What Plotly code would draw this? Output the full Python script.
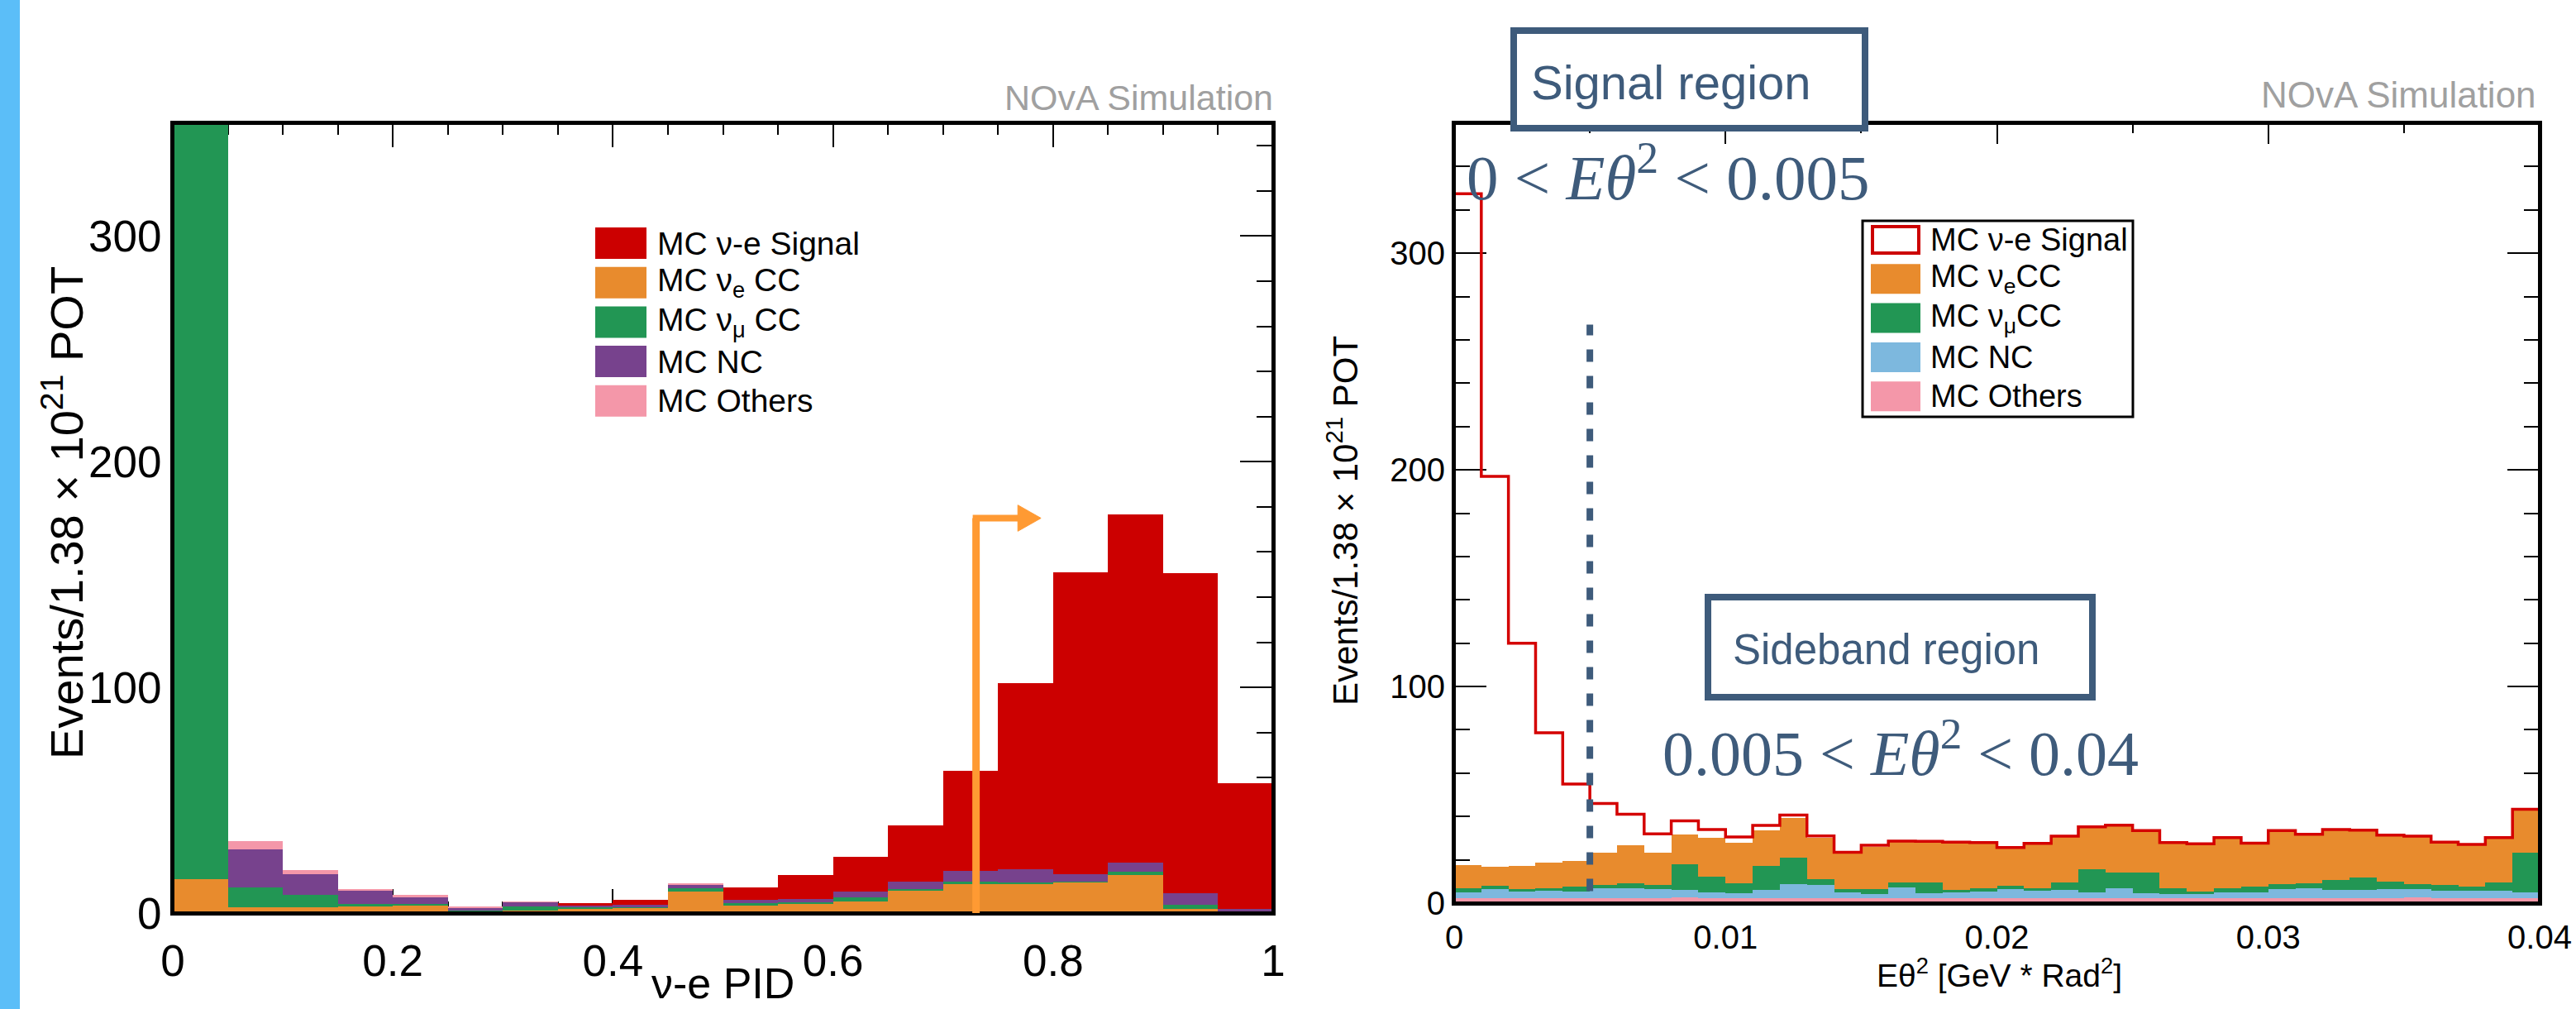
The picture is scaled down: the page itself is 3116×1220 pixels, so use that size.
import numpy as np
import plotly.graph_objects as go

W, H = 3116, 1220

# ---------------- Left panel: nu-e PID, 20 bins on [0, 1] ----------------
PID_EDGES = np.linspace(0.0, 1.0, 21)
pid_nue_cc  = [15.0, 2.4, 2.4, 2.9, 3.6, 0.6, 1.2, 1.9, 2.4, 9.6, 3.6, 4.3, 5.3, 10.0, 12.7, 12.9, 13.7, 16.8, 1.7, 0.5]
pid_numu_cc = [385.0, 9.1, 5.8, 1.2, 0.5, 0.4, 1.7, 0.5, 0.5, 1.4, 0.7, 0.5, 1.7, 0.5, 1.4, 0.8, 0.4, 1.5, 1.9, 0.2]
pid_nc      = [0.0, 16.8, 9.1, 5.7, 3.1, 1.4, 1.9, 1.0, 0.7, 1.7, 1.5, 1.4, 2.6, 3.4, 4.6, 5.7, 3.2, 4.0, 5.1, 1.0]
pid_others  = [0.0, 3.6, 1.9, 1.0, 0.7, 0.2, 0.2, 0.0, 0.0, 0.3, 0.0, 0.0, 0.0, 0.0, 0.0, 0.0, 0.0, 0.0, 0.0, 0.0]
pid_signal  = [0.0, 0.0, 0.0, 0.0, 0.0, 0.0, 0.0, 0.9, 2.2, 0.0, 5.5, 10.6, 15.3, 25.0, 44.5, 82.6, 133.7, 154.5, 142.0, 55.8]
PID_CUT = 0.73
PID_TICKS = [0, 0.2, 0.4, 0.6, 0.8, 1.0]
PID_TICKTEXT = ["0", "0.2", "0.4", "0.6", "0.8", "1"]

# ---------------- Right panel: E theta^2, 40 bins on [0, 0.04] ----------------
ET_EDGES = np.linspace(0.0, 0.04, 41)
et_others  = [2.2, 2.2, 2.2, 2.2, 2.2, 2.2, 2.2, 2.2, 2.8, 2.2, 2.2, 2.2, 2.2, 2.2, 2.2, 2.2, 2.2, 2.2, 2.2, 2.2,
              2.2, 2.2, 2.2, 2.2, 2.2, 2.2, 2.2, 2.2, 2.2, 2.2, 2.2, 2.2, 2.2, 2.2, 2.2, 2.6, 2.2, 2.2, 2.2, 2.2]
et_nc      = [2.6, 4.4, 3.3, 3.5, 3.1, 4.8, 4.8, 4.2, 3.3, 2.6, 2.3, 3.8, 6.7, 6.3, 2.9, 1.9, 5.2, 2.3, 2.9, 3.3,
              4.2, 3.5, 3.8, 2.9, 4.8, 2.3, 1.9, 1.9, 2.9, 2.9, 4.2, 4.8, 3.8, 3.9, 4.4, 4.0, 3.5, 3.5, 3.5, 2.9]
et_numu_cc = [1.9, 1.4, 1.1, 1.0, 2.3, 1.5, 2.2, 1.9, 12.0, 7.3, 4.8, 11.2, 12.1, 2.7, 1.5, 2.3, 2.3, 5.2, 1.1, 1.2,
              1.5, 1.3, 3.5, 10.4, 7.2, 9.5, 2.9, 1.2, 1.6, 2.5, 2.3, 2.2, 4.8, 5.7, 3.2, 2.3, 2.6, 1.9, 4.0, 18.1]
et_nue_cc  = [10.7, 8.8, 10.7, 12.1, 11.7, 14.7, 17.5, 15.1, 13.7, 17.9, 18.4, 16.5, 18.2, 19.1, 16.3, 19.7, 18.6, 18.5, 21.7, 21.0,
              17.5, 20.3, 21.1, 19.4, 21.5, 19.2, 20.7, 21.8, 23.3, 19.8, 24.5, 22.3, 22.9, 21.6, 21.3, 21.7, 19.6, 19.2, 20.3, 19.8]
et_signal  = [310.1, 180.2, 102.7, 59.8, 35.7, 22.8, 14.3, 8.6, 6.2, 4.0, 2.8, 2.2, 1.5, 0.7, 0.6, 0.6, 0.3, 0.3, 0.3, 0.3,
              0.3, 0.3, 0.3, 0.3, 0.3, 0.3, 0.3, 0.3, 0.3, 0.3, 0.3, 0.3, 0.3, 0.3, 0.3, 0.3, 0.3, 0.3, 0.3, 0.3]
ET_SIGNAL_MAX = 0.005
ET_TICKS = [0, 0.01, 0.02, 0.03, 0.04]
ET_TICKTEXT = ["0", "0.01", "0.02", "0.03", "0.04"]

# ---------------- styling ----------------
RED = "#CC0000"
ORANGE = "#E88B2D"
GREEN = "#229654"
PURPLE = "#77428D"
PINK = "#F497A9"
NCBLUE = "#7DB8DE"
SLATE = "#3E5B7B"
ARROW = "#FF9A33"
GREY = "#A0A0A0"
SANS = "Liberation Sans, Arial, Helvetica, sans-serif"
SERIF = "Liberation Serif, Times New Roman, serif"


def PX(x):
    return x / W


def PY(y):
    return 1 - y / H


fig = go.Figure()

pid_c = 0.5 * (PID_EDGES[:-1] + PID_EDGES[1:])
pid_w = PID_EDGES[1] - PID_EDGES[0]
for vals, col, name in [(pid_nue_cc, ORANGE, "nue"), (pid_numu_cc, GREEN, "numu"),
                        (pid_nc, PURPLE, "nc"), (pid_others, PINK, "oth"), (pid_signal, RED, "sig")]:
    fig.add_trace(go.Bar(x=pid_c, y=vals, width=pid_w, marker=dict(color=col, line=dict(width=0)),
                         xaxis="x", yaxis="y", showlegend=False, name=name))

et_c = 0.5 * (ET_EDGES[:-1] + ET_EDGES[1:])
et_w = ET_EDGES[1] - ET_EDGES[0]
for vals, col, name in [(et_others, PINK, "oth"), (et_nc, NCBLUE, "nc"),
                        (et_numu_cc, GREEN, "numu"), (et_nue_cc, ORANGE, "nue")]:
    fig.add_trace(go.Bar(x=et_c, y=vals, width=et_w, marker=dict(color=col, line=dict(width=0)),
                         xaxis="x2", yaxis="y2", showlegend=False, name=name))

et_total = np.array(et_others) + np.array(et_nc) + np.array(et_numu_cc) + np.array(et_nue_cc) + np.array(et_signal)
line_x = [ET_EDGES[0]] + list(ET_EDGES[:-1]) + [ET_EDGES[-1]]
line_y = [0.0] + list(et_total) + [et_total[-1]]
fig.add_trace(go.Scatter(x=line_x, y=line_y, mode="lines", line=dict(color="#D40000", width=3.5, shape="hv"),
                         xaxis="x2", yaxis="y2", showlegend=False, name="sig"))

LX = [PX(209), PX(1540)]
LY = [PY(1104), PY(149)]
RX = [PX(1759), PX(3072)]
RY = [PY(1092), PY(149)]

common_axis = dict(showgrid=False, zeroline=False, ticks="inside", tickcolor="black", tickwidth=2,
                   showline=True, linecolor="black", linewidth=3, mirror="allticks", layer="below traces",
                   automargin=False)

fig.update_layout(
    width=W, height=H, margin=dict(l=0, r=0, t=0, b=0, pad=0, autoexpand=False),
    paper_bgcolor="white", plot_bgcolor="white",
    barmode="stack", bargap=0, showlegend=False,
    font=dict(family=SANS, color="black"),
    xaxis=dict(domain=LX, range=[0, 1], tickvals=PID_TICKS, ticktext=PID_TICKTEXT, ticklen=29,
               minor=dict(dtick=0.05, ticklen=14, ticks="inside", tickcolor="black", tickwidth=2),
               tickfont=dict(size=53, family=SANS), anchor="y", ticklabelstandoff=9, **common_axis),
    yaxis=dict(domain=LY, range=[0, 350], tickvals=[0, 100, 200, 300], ticklen=40,
               minor=dict(dtick=20, ticklen=20, ticks="inside", tickcolor="black", tickwidth=2),
               tickfont=dict(size=53, family=SANS), anchor="x", **common_axis),
    xaxis2=dict(domain=RX, range=[0, 0.04], tickvals=ET_TICKS, ticktext=ET_TICKTEXT, ticklen=25,
                minor=dict(dtick=0.005, ticklen=12, ticks="inside", tickcolor="black", tickwidth=2),
                tickfont=dict(size=40, family=SANS), anchor="y2", ticklabelstandoff=4, **common_axis),
    yaxis2=dict(domain=RY, range=[0, 360], tickvals=[0, 100, 200, 300], ticklen=39,
                minor=dict(dtick=20, ticklen=19, ticks="inside", tickcolor="black", tickwidth=2),
                tickfont=dict(size=40, family=SANS), anchor="x2", **common_axis),
)

shapes = []
# decorative slide edge
shapes.append(dict(type="rect", xref="paper", yref="paper", x0=0, x1=PX(24), y0=0, y1=1,
                   fillcolor="#5BBEF8", line=dict(width=0), layer="below"))
# frames on top of bars
shapes.append(dict(type="rect", xref="x domain", yref="y domain", x0=0, x1=1, y0=0, y1=1,
                   line=dict(color="black", width=4), fillcolor="rgba(0,0,0,0)"))
shapes.append(dict(type="rect", xref="x2 domain", yref="y2 domain", x0=0, x1=1, y0=0, y1=1,
                   line=dict(color="black", width=4), fillcolor="rgba(0,0,0,0)"))
# PID cut arrow
shapes.append(dict(type="line", xref="x", yref="y", x0=PID_CUT, x1=PID_CUT, y0=0, y1=175,
                   line=dict(color=ARROW, width=9)))
shapes.append(dict(type="line", xref="x", yref="y", x0=PID_CUT - 0.003, x1=0.77, y0=175, y1=175,
                   line=dict(color=ARROW, width=8)))
shapes.append(dict(type="path", xref="x", yref="y",
                   path="M 0.768 180.8 L 0.789 175 L 0.768 169.2 Z",
                   fillcolor=ARROW, line=dict(color=ARROW, width=1)))
# signal-region boundary
shapes.append(dict(type="line", xref="x2", yref="y2", x0=ET_SIGNAL_MAX, x1=ET_SIGNAL_MAX, y0=5.5, y1=267,
                   line=dict(color=SLATE, width=8, dash="15px,17px")))
# region boxes
shapes.append(dict(type="rect", xref="paper", yref="paper", x0=PX(1831), x1=PX(2256), y0=PY(155), y1=PY(37),
                   fillcolor="white", line=dict(color=SLATE, width=8)))
shapes.append(dict(type="rect", xref="paper", yref="paper", x0=PX(2066), x1=PX(2531), y0=PY(843), y1=PY(722),
                   fillcolor="white", line=dict(color=SLATE, width=8)))

annotations = []


def label(x, y, text, size, color="black", family=SANS, xanchor="center", yanchor="middle", angle=0):
    annotations.append(dict(xref="paper", yref="paper", x=PX(x), y=PY(y), xanchor=xanchor, yanchor=yanchor,
                            text=text, showarrow=False, textangle=angle,
                            font=dict(size=size, family=family, color=color)))


# left legend (no border)
left_leg = [(RED, "MC ν-e Signal"), (ORANGE, "MC ν<sub>e</sub> CC"), (GREEN, "MC ν<sub>μ</sub> CC"),
            (PURPLE, "MC NC"), (PINK, "MC Others")]
for i, (col, txt) in enumerate(left_leg):
    yc = 294 + 47.7 * i
    shapes.append(dict(type="rect", xref="paper", yref="paper", x0=PX(720), x1=PX(782),
                       y0=PY(yc + 19), y1=PY(yc - 19), fillcolor=col, line=dict(width=0)))
    label(793, yc, txt, 39, xanchor="left")

# right legend (bordered)
shapes.append(dict(type="rect", xref="paper", yref="paper", x0=PX(2253), x1=PX(2580), y0=PY(504), y1=PY(267),
                   fillcolor="white", line=dict(color="black", width=3)))
right_leg = [(RED, "MC ν-e Signal"), (ORANGE, "MC ν<sub>e</sub>CC"), (GREEN, "MC ν<sub>μ</sub>CC"),
             (NCBLUE, "MC NC"), (PINK, "MC Others")]
for i, (col, txt) in enumerate(right_leg):
    yc = 290 + 47.3 * i
    if i == 0:
        shapes.append(dict(type="rect", xref="paper", yref="paper", x0=PX(2265), x1=PX(2321),
                           y0=PY(yc + 16), y1=PY(yc - 16), fillcolor="white", line=dict(color=RED, width=4)))
    else:
        shapes.append(dict(type="rect", xref="paper", yref="paper", x0=PX(2263), x1=PX(2323),
                           y0=PY(yc + 18), y1=PY(yc - 18), fillcolor=col, line=dict(width=0)))
    label(2333, yc, txt, 38, xanchor="left")

# axis titles
label(76, 620, "Events/1.38 × 10<sup>21</sup> POT", 56, angle=-90)
label(874, 1220, "ν-e PID", 52, yanchor="bottom")
label(1624, 630, "Events/1.38 × 10<sup>21</sup> POT", 42, angle=-90)
label(2418, 1176, "Eθ<sup>2</sup> [GeV * Rad<sup>2</sup>]", 39)
# NOvA labels
label(1542, 118, "NOvA Simulation", 43, color=GREY, xanchor="right")
label(3070, 115, "NOvA Simulation", 44, color=GREY, xanchor="right")
# region labels
label(2021, 100, "Signal region", 58, color=SLATE)
label(2281, 785, "Sideband region", 51, color=SLATE)
label(1772, 210, "0 &lt; <i>Eθ</i><sup>2</sup> &lt; 0.005", 77, color=SLATE, family=SERIF, xanchor="left")
label(2009, 905, "0.005 &lt; <i>Eθ</i><sup>2</sup> &lt; 0.04", 76, color=SLATE, family=SERIF, xanchor="left")

fig.update_layout(shapes=shapes, annotations=annotations)
fig.write_html("out.html", config={"displayModeBar": False},
               post_script="document.documentElement.style.overflow='hidden';document.body.style.margin='0';document.body.style.overflow='hidden';")
